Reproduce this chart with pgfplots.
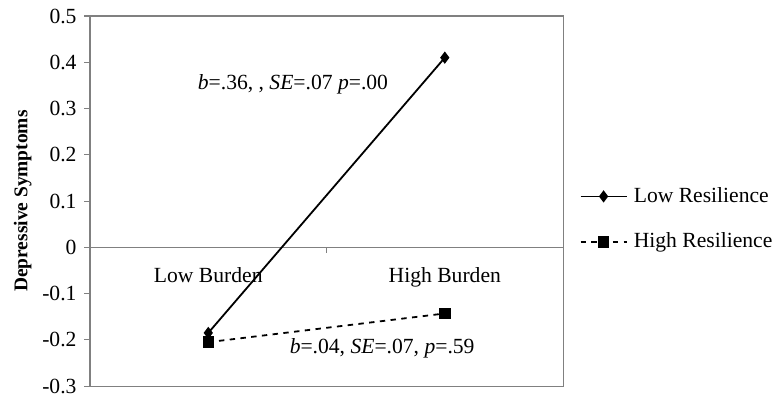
\documentclass[12pt,border=0pt]{standalone}
\usepackage{fontspec}
\setmainfont{Liberation Serif}
\usepackage{pgfplots}
\pgfplotsset{compat=1.18}
\begin{document}
\begin{tikzpicture}
\begin{axis}[
  name=ax,
  scale only axis,
  width=262.8pt, height=205.6pt,
  xmin=0.5, xmax=2.5,
  ymin=-0.3, ymax=0.5,
  axis line style={draw=black!50, line width=0.6pt},
  xtick={1,2},
  xticklabels={Low Burden, High Burden},
  xtick style={draw=none},
  xticklabel style={yshift=73.5pt},
  ytick={-0.3,-0.2,-0.1,0,0.1,0.2,0.3,0.4,0.5},
  yticklabels={-0.3,-0.2,-0.1,0,0.1,0.2,0.3,0.4,0.5},
  ytick pos=left,
  tick align=outside,
  major tick length=3.3pt,
  ytick style={draw=black!50, line width=0.6pt},
  ylabel={\fontsize{10.8}{12}\selectfont\textbf{Depressive Symptoms}},
  ylabel style={at={(axis description cs:-0.142,0.5)}, anchor=center},
  legend style={at={(1,0.451)}, anchor=west, xshift=6pt, draw=none, fill=none,
    row sep=11.2pt, nodes={inner sep=2pt}},
  legend cell align=left,
  legend image code/.code={\draw[mark repeat=2,mark phase=2,#1] plot coordinates {(0cm,0cm) (0.45cm,0cm) (0.9cm,0cm)};},
  clip=false,
]
\addplot[black!50, line width=0.6pt, forget plot] coordinates {(0.5,0) (2.5,0)};
\addplot[black, line width=1pt, mark=diamond*, mark size=2.6pt, mark options={solid}]
  coordinates {(1,-0.185) (2,0.410)};
\addlegendentry{\hspace{1.5pt}Low Resilience}
\addplot[black, line width=1pt, dashed, mark=square*, mark size=2.7pt, mark options={solid}]
  coordinates {(1,-0.205) (2,-0.143)};
\addlegendentry{\hspace{1.5pt}High Resilience}
\node at (axis cs:1.358,0.353) {\textit{b}=.36, , \textit{SE}=.07 \textit{p}=.00};
\node at (axis cs:1.735,-0.219) {\textit{b}=.04, \textit{SE}=.07, \textit{p}=.59};
\draw[black!50, line width=0.6pt] (axis cs:1.5,0) -- ([yshift=-3pt]axis cs:1.5,0);
\end{axis}
\pgfresetboundingbox
\path[use as bounding box] ([shift={(-50pt,-8.3pt)}]ax.south west) rectangle ([shift={(119.4pt,8.9pt)}]ax.north east);
\end{tikzpicture}
\end{document}
